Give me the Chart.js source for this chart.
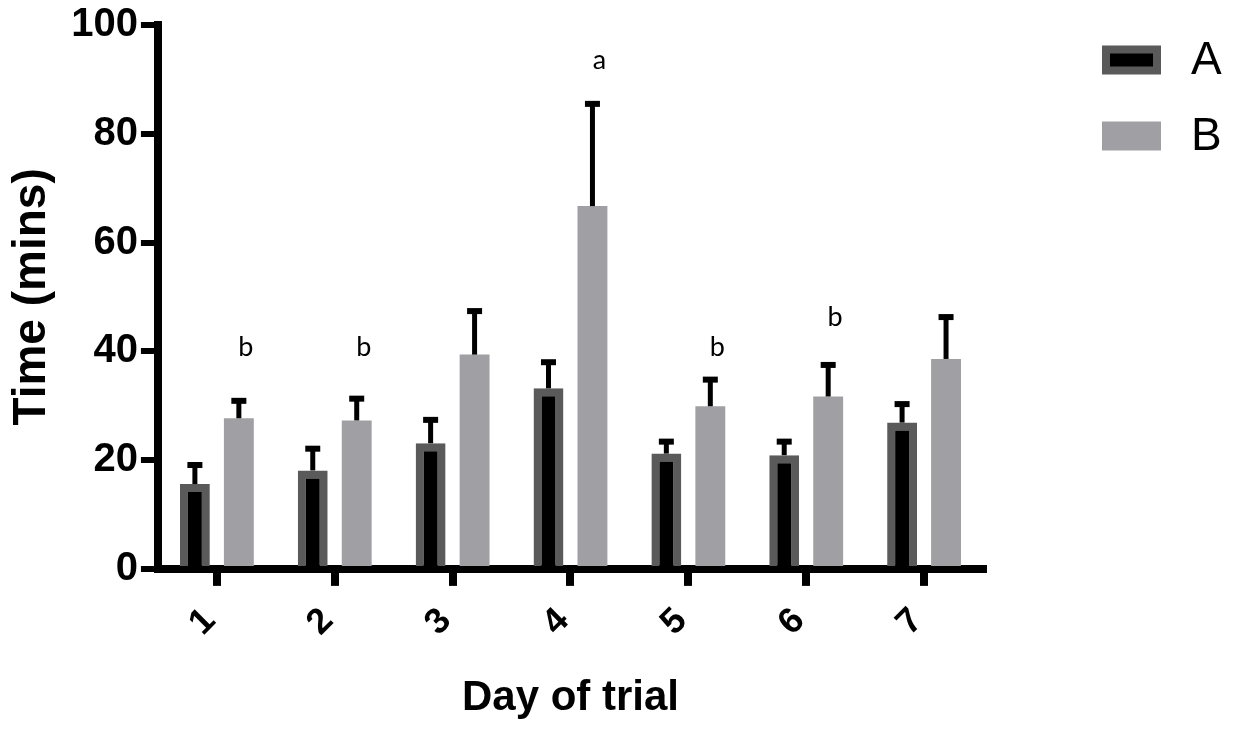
<!DOCTYPE html>
<html>
<head>
<meta charset="utf-8">
<script src="https://cdn.jsdelivr.net/npm/chart.js@4/dist/chart.umd.min.js"></script>
<style>
  html, body { margin: 0; padding: 0; background: #fff; }
  #wrap { width: 1236px; height: 729px; position: relative; }
</style>
</head>
<body>
<div id="wrap"><canvas id="dayChart"></canvas></div>
<script>
'use strict';

// Chart data
const days = ['1', '2', '3', '4', '5', '6', '7'];
const seriesA = [15.6, 18.1, 23.1, 33.2, 21.2, 20.9, 26.9];
const errorA = [3.5, 4.0, 4.3, 4.8, 2.2, 2.5, 3.4];
const seriesB = [27.7, 27.3, 39.4, 66.7, 29.9, 31.7, 38.6];
const errorB = [3.2, 4.0, 8.0, 18.8, 4.9, 5.8, 7.7];
const yTicks = [0, 20, 40, 60, 80, 100];
const sigLetters = ['b', 'b', '', 'a', 'b', 'b', ''];
const sigLevel = [40.8, 40.8, null, 93.6, 40.8, 46.2, null];

const errorSets = [errorA, errorB];

//Error bars, significance letters and legend
const extrasPlugin = {
  id: 'extras',
  afterDatasetsDraw(chart) {
    const ctx = chart.ctx;
    const y = chart.scales.y;
    ctx.save();
    ctx.strokeStyle = '#000';
    ctx.fillStyle = '#000';
    chart.data.datasets.forEach((ds, di) => {
      const meta = chart.getDatasetMeta(di);
      meta.data.forEach((bar, i) => {
        const top = y.getPixelForValue(ds.data[i] + errorSets[di][i]);
        ctx.lineWidth = 5;
        ctx.beginPath();
        ctx.moveTo(bar.x, bar.y);
        ctx.lineTo(bar.x, top);
        ctx.stroke();
        ctx.fillRect(bar.x - 7.5, top - 3, 15, 6);
      });
    });

    // letters above the B bars
    const metaB = chart.getDatasetMeta(1);
    ctx.font = '27px Lato, "Open Sans", sans-serif';
    ctx.textAlign = 'center';
    ctx.textBaseline = 'middle';
    sigLetters.forEach((t, i) => {
      if (!t) return;
      ctx.fillText(t, metaB.data[i].x + 7, y.getPixelForValue(sigLevel[i]));
    });
    ctx.restore();
  },
  afterDraw(chart) {
    const ctx = chart.ctx;
    ctx.save();
    chart.data.datasets.forEach((ds, di) => {
      const cy = 60 + di * 76;
      ctx.fillStyle = ds.borderWidth ? ds.borderColor : ds.backgroundColor;
      ctx.fillRect(1102, cy - 14.5, 59, 29);
      if (ds.borderWidth) {
        ctx.fillStyle = ds.backgroundColor;
        ctx.fillRect(1102 + 8, cy - 14.5 + 8, 59 - 16, 29 - 16);
      }
      ctx.fillStyle = '#000';
      ctx.font = '46px Arial, "Liberation Sans", sans-serif';
      ctx.textAlign = 'left';
      ctx.textBaseline = 'middle';
      ctx.fillText(ds.label, 1191, cy + 1);
    });
    ctx.restore();
  },
};

const dayData = {
  labels: days,
  datasets: [
    {
      label: 'A',
      data: seriesA,
      backgroundColor: '#000000',
      borderColor: '#5a5a5a',
      borderWidth: 8,
      borderSkipped: 'start',
    },
    {
      label: 'B',
      data: seriesB,
      backgroundColor: '#a0a0a4',
      borderColor: '#a0a0a4',
      borderWidth: 0,
    },
  ],
};

const boldFont = (size, lineHeight) => ({
  family: 'Arial, "Liberation Sans", sans-serif',
  size: size,
  weight: 'bold',
  lineHeight: lineHeight || 1.2,
});

const dayConfig = {
  type: 'bar',
  data: dayData,
  options: {
    responsive: false,
    animation: false,
    categoryPercentage: 0.746,
    barPercentage: 0.68,
    layout: {
      padding: { left: 5, right: 253, top: 0, bottom: 5 },
    },
    plugins: {
      legend: { display: false },
      tooltip: { enabled: false },
    },
    scales: {
      x: {
        grid: {
          display: true,
          drawOnChartArea: false,
          offset: false,
          color: '#000',
          lineWidth: 8,
          tickLength: 17,
        },
        border: { display: true, color: '#000', width: 8 },
        ticks: {
          color: '#000',
          font: boldFont(36),
          minRotation: 45,
          maxRotation: 45,
          autoSkip: false,
          padding: 14,
          labelOffset: -7,
        },
        title: {
          display: true,
          text: 'Day of trial',
          color: '#000',
          font: boldFont(42),
          padding: { top: 15, bottom: 0 },
        },
      },
      y: {
        min: 0,
        max: 100,
        afterBuildTicks(scale) {
          scale.ticks = yTicks.map((v) => ({ value: v }));
        },
        grid: {
          display: true,
          drawOnChartArea: false,
          color: '#000',
          lineWidth: 6,
          tickLength: 17,
        },
        border: { display: true, color: '#000', width: 8 },
        ticks: {
          color: '#000',
          font: boldFont(40, 1.1),
          padding: 3,
        },
        title: {
          display: true,
          text: 'Time (mins)',
          color: '#000',
          font: boldFont(46),
          padding: { top: 0, bottom: 8 },
        },
      },
    },
  },
  plugins: [extrasPlugin],
};

const canvas = document.getElementById('dayChart');
canvas.width = 1236;
canvas.height = 729;
const dayChart = new Chart(canvas, dayConfig);
</script>
</body>
</html>
